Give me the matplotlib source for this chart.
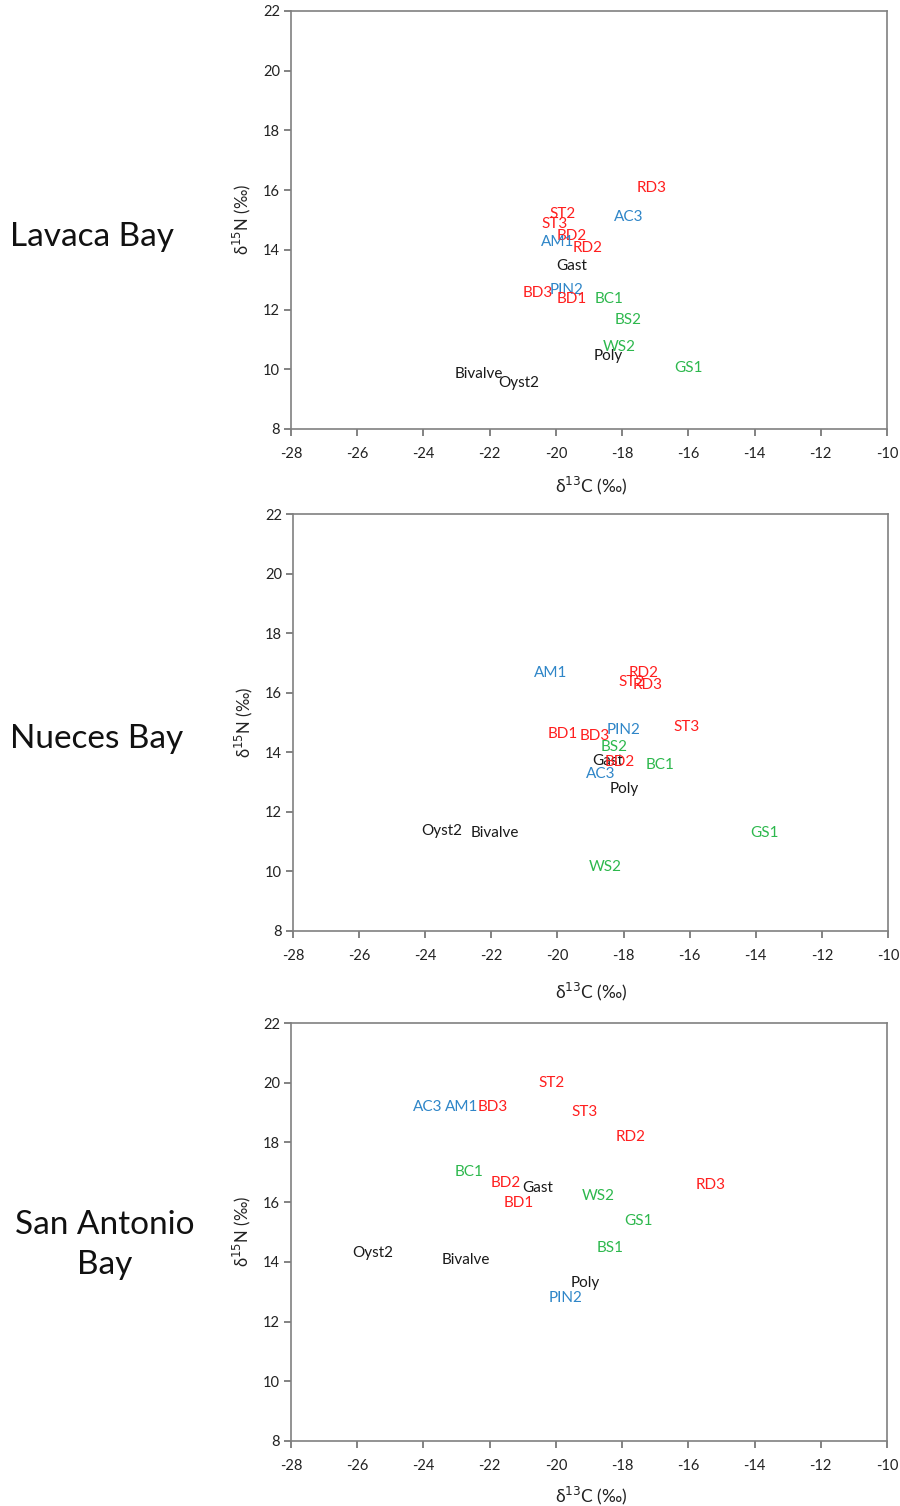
import matplotlib
matplotlib.use("Agg")
import matplotlib.pyplot as plt

plt.rcParams['font.family'] = ['Lato', 'DejaVu Sans']

RED = '#ff1f1f'
BLUE = '#2f86c8'
GREEN = '#2db84d'
BLACK = '#1a1a1a'

bays = ["Lavaca Bay", "Nueces Bay", "San Antonio\nBay"]

# Lavaca Bay
lav_labels = ["RD3", "ST2", "AC3", "ST3", "BD2", "AM1", "RD2", "Gast", "PIN2",
              "BD3", "BD1", "BC1", "BS2", "WS2", "Poly", "GS1", "Bivalve", "Oyst2"]
lav_d13C = [-17.10, -19.79, -17.79, -20.03, -19.51, -19.94, -19.03, -19.51, -19.69,
            -20.54, -19.51, -18.40, -17.82, -18.09, -18.43, -16.01, -22.32, -21.11]
lav_d15N = [16.07, 15.20, 15.10, 14.87, 14.46, 14.26, 14.06, 13.46, 12.66,
            12.56, 12.35, 12.35, 11.65, 10.75, 10.45, 10.04, 9.84, 9.54]
lav_group = ["r", "r", "b", "r", "r", "b", "r", "k", "b",
             "r", "r", "g", "g", "g", "k", "g", "k", "k"]

# Nueces Bay
nue_labels = ["AM1", "RD2", "ST2", "RD3", "ST3", "PIN2", "BD1", "BD3", "BS2",
              "Gast", "BD2", "BC1", "AC3", "Poly", "Oyst2", "Bivalve", "GS1", "WS2"]
nue_d13C = [-20.20, -17.38, -17.75, -17.26, -16.08, -17.99, -19.83, -18.87, -18.29,
            -18.47, -18.11, -16.90, -18.68, -17.99, -23.49, -21.89, -13.75, -18.56]
nue_d15N = [16.66, 16.66, 16.36, 16.26, 14.85, 14.75, 14.61, 14.55, 14.18,
            13.71, 13.68, 13.57, 13.27, 12.77, 11.36, 11.29, 11.29, 10.15]
nue_group = ["b", "r", "r", "r", "r", "b", "r", "r", "g",
             "k", "r", "g", "b", "k", "k", "k", "g", "g"]

# San Antonio Bay
san_labels = ["ST2", "AC3", "AM1", "BD3", "ST3", "RD2", "BC1", "BD2", "Gast",
              "RD3", "WS2", "BD1", "GS1", "BS1", "Oyst2", "Bivalve", "Poly", "PIN2"]
san_d13C = [-20.12, -23.86, -22.84, -21.90, -19.12, -17.73, -22.62, -21.51, -20.54,
            -15.32, -18.73, -21.11, -17.52, -18.37, -25.52, -22.71, -19.12, -19.72]
san_d15N = [19.99, 19.19, 19.19, 19.19, 19.02, 18.18, 17.01, 16.64, 16.47,
            16.57, 16.21, 15.97, 15.37, 14.46, 14.30, 14.06, 13.29, 12.79]
san_group = ["r", "b", "b", "r", "r", "r", "g", "r", "k",
             "r", "g", "r", "g", "g", "k", "k", "k", "b"]

xticks = [-28, -26, -24, -22, -20, -18, -16, -14, -12, -10]
yticks = [8, 10, 12, 14, 16, 18, 20, 22]

cmap = {"r": RED, "b": BLUE, "g": GREEN, "k": BLACK}

fig = plt.figure(figsize=(9, 15.06), dpi=100)

rects = [
    [291/900, 1-429/1506, 596/900, 418/1506],
    [293/900, 1-931/1506, 595/900, 417/1506],
    [291/900, 1-1441/1506, 596/900, 418/1506],
]
title_y = [1-237/1506, 1-739/1506, 1-1245/1506]
title_x = [10/900, 10/900, 105/900]
title_ha = ["left", "left", "center"]
xlabel_y = [486, 992, 1496]

data = [
    (lav_labels, lav_d13C, lav_d15N, lav_group),
    (nue_labels, nue_d13C, nue_d15N, nue_group),
    (san_labels, san_d13C, san_d15N, san_group),
]

for i, (labs, xs, ys, gs) in enumerate(data):
    ax = fig.add_axes(rects[i])
    ax.set_xlim(-28, -10)
    ax.set_ylim(8, 22)
    ax.set_xticks(xticks)
    ax.set_yticks(yticks)
    ax.set_xticklabels([str(t) for t in xticks])
    ax.set_yticklabels([str(t) for t in yticks])
    for sp in ax.spines.values():
        sp.set_color('#808080')
        sp.set_linewidth(1.2)
    ax.tick_params(axis='both', direction='out', length=5, width=1.1,
                   color='#606060', labelsize=10.5, labelcolor='#222222')
    ax.tick_params(axis='x', pad=8)
    ax.tick_params(axis='y', pad=3)
    for lab, x, y, g in zip(labs, xs, ys, gs):
        ax.text(x, y, lab, color=cmap[g], fontsize=11, ha='center', va='center')
    ax.set_ylabel(r'δ$^{15}$N (‰)', fontsize=12, color='#222222', labelpad=7)
    fig.text(591/900, 1 - xlabel_y[i]/1506, r'δ$^{13}$C (‰)', fontsize=12.5,
             color='#222222', ha='center', va='center')
    fig.text(title_x[i], title_y[i], bays[i], fontsize=24, color='#111111',
             ha=title_ha[i], va='center', multialignment='center', linespacing=1.45)

fig.savefig("out.png", dpi=100)
